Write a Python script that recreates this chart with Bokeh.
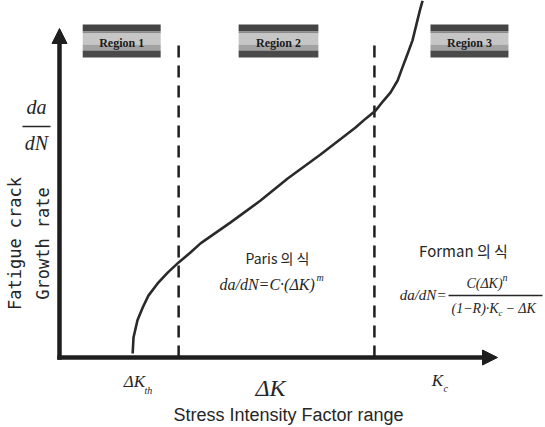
import math
from bokeh.plotting import figure
from bokeh.models import Range1d, Arrow, NormalHead, Label
from bokeh.embed import file_html
from bokeh.resources import INLINE

# ---- schematic data (x: log ΔK, y: log da/dN, both 0..100 schematic units) ----
curve_dk = [16.7, 16.9, 17.8, 19.0, 20.3, 22.4, 24.7, 27.2, 29.9, 32.2, 39.0,
            45.9, 52.1, 59.6, 67.6, 69.9, 72.2, 74.0, 75.6, 77.2, 78.3, 79.5,
            80.6, 81.7, 82.4, 82.9]
curve_rate = [1.2, 6.1, 11.3, 15.2, 18.8, 22.5, 25.8, 28.9, 31.9, 34.7, 41.0,
              47.7, 54.4, 61.7, 69.9, 72.6, 75.1, 78.1, 80.6, 84.2, 88.2, 92.4,
              96.4, 102.4, 106.1, 108.5]
region_bounds = [27.2, 71.9]
region_labels = ["Region 1", "Region 2", "Region 3"]
region_left = [5.3, 40.9, 84.7]
region_right = [23.1, 59.1, 102.5]
dk_th = 16.7
k_c = 86.3

# layout helper: reference-picture pixel -> schematic units
def px(x, y):
    return ((x - 59) / 4.38, (357 - y) / 3.29)

INK = "#1e1e1e"
TXT = "#262626"

W, H = 545, 427
p = figure(width=W, height=H,
           x_range=Range1d(px(0, 0)[0], px(W, 0)[0]),
           y_range=Range1d(px(0, H)[1], px(0, 0)[1]),
           output_backend="svg", toolbar_location=None, min_border=0,
           x_axis_location=None, y_axis_location=None)
p.grid.visible = False
p.outline_line_color = None
p.background_fill_color = "white"
p.border_fill_color = "white"

# ---- region header boxes ----
bands = [(24, 31, "#444444"), (31, 33, "#8a8a8a"), (33, 44, "#c6c6c6"),
         (44, 50, "#a2a2a2"), (50, 57, "#4a4a4a")]
for top, bot, col in bands:
    p.quad(left=region_left, right=region_right,
           top=[px(0, top)[1]] * 3, bottom=[px(0, bot)[1]] * 3,
           fill_color=col, line_color=None)
for lab_, l, r in zip(region_labels, region_left, region_right):
    p.add_layout(Label(x=(l + r) / 2, y=px(0, 42)[1], text=lab_,
                       text_font="Liberation Serif", text_font_style="bold",
                       text_font_size="12px", text_color="#1a1a1a",
                       text_align="center", text_baseline="middle"))

# ---- region boundaries (dashed) ----
p.segment(x0=region_bounds, y0=[0, 0], x1=region_bounds,
          y1=[px(0, 38)[1]] * 2, line_dash="12 8", line_width=2.5,
          line_color=INK)

# ---- axes with arrows ----
p.add_layout(Arrow(end=NormalHead(size=15, fill_color=INK, line_color=INK),
                   x_start=0, y_start=-0.7, x_end=0, y_end=100,
                   line_width=4.5, line_color=INK))
p.add_layout(Arrow(end=NormalHead(size=15, fill_color=INK, line_color=INK),
                   x_start=-0.5, y_start=0, x_end=100, y_end=0,
                   line_width=4.5, line_color=INK))

# ---- crack growth curve ----
p.line(curve_dk, curve_rate, line_width=2.6, line_color="#2a2a2a",
       line_join="round")

def lab(x, y, text, font="Liberation Serif", size="14px", style="normal",
        align="center", angle=0.0, color=TXT):
    xx, yy = px(x, y)
    p.add_layout(Label(x=xx, y=yy, text=text, text_font=font,
                       text_font_size=size, text_font_style=style,
                       text_align=align, text_baseline="middle",
                       angle=angle, text_color=color))

# y-axis label
lab(36, 106, "da", size="20px", style="italic")
fx0, fy = px(22, 126)
fx1, _ = px(50, 126)
p.segment(x0=[fx0], y0=[fy], x1=[fx1], y1=[fy], line_width=1.5, line_color=TXT)
lab(36, 142, "dN", size="20px", style="italic")
lab(14, 243, "Fatigue crack", font="DejaVu Sans Mono", size="17px", angle=math.pi / 2)
lab(42, 243, "Growth rate", font="DejaVu Sans Mono", size="17px", angle=math.pi / 2)

# x-axis labels
lab(134, 381, "ΔK", size="17px", style="italic")
lab(144, 390, "th", size="10px", style="italic", align="left")
lab(270, 387, "ΔK", size="24px", style="italic")
lab(437, 380, "K", size="17px", style="italic")
lab(443, 388, "c", size="10px", style="italic", align="left")
lab(288, 414, "Stress Intensity Factor range", font="Liberation Sans", size="18px")

# Paris law
lab(277, 257, "Paris 의 식", font="Noto Sans CJK KR", size="14px")
lab(219, 284, "da/dN=C·(ΔK)", size="16px", style="italic", align="left")
lab(316, 277, "m", size="10px", style="italic", align="left")

# Forman equation
lab(463, 250, "Forman 의 식", font="Noto Sans CJK KR", size="15px")
lab(446, 294, "da/dN=", size="15px", style="italic", align="right")
gx0, gy = px(448, 295)
gx1, _ = px(542, 295)
p.segment(x0=[gx0], y0=[gy], x1=[gx1], y1=[gy], line_width=1.3, line_color=TXT)
lab(484, 283, "C(ΔK)", size="14px", style="italic")
lab(502, 277, "n", size="10px", style="italic", align="left")
lab(451, 308, "(1−R)·K", size="14px", style="italic", align="left")
lab(498, 312, "c", size="9px", style="italic", align="left")
lab(505, 308, "− ΔK", size="14px", style="italic", align="left")

open("out.html", "w").write(file_html(p, INLINE))
